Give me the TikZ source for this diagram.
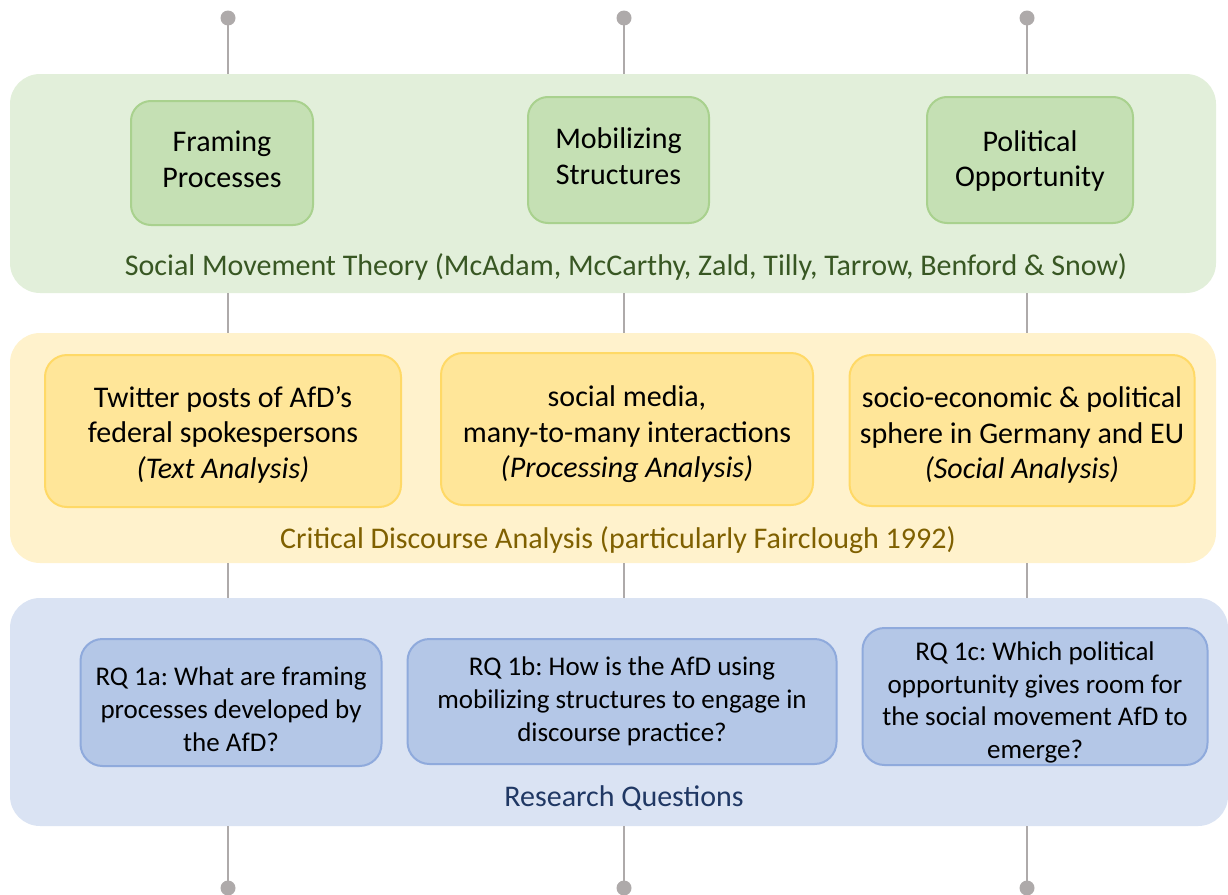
\documentclass[tikz,border=0pt]{standalone}
\usepackage{fontspec}
\setmainfont{Carlito}
\usetikzlibrary{positioning}
\definecolor{smtband}{HTML}{E2EFDA}
\definecolor{smtfill}{HTML}{C5E0B4}
\definecolor{smtline}{HTML}{A9D18E}
\definecolor{smttext}{HTML}{385723}
\definecolor{cdaband}{HTML}{FFF2CC}
\definecolor{cdafill}{HTML}{FFE699}
\definecolor{cdaline}{HTML}{FFD966}
\definecolor{cdatext}{HTML}{7F6000}
\definecolor{rqband}{HTML}{DAE3F3}
\definecolor{rqfill}{HTML}{B4C7E7}
\definecolor{rqline}{HTML}{8FAADC}
\definecolor{rqtext}{HTML}{203864}
\definecolor{pingray}{HTML}{AEAAAA}
\tikzset{
  band/.style={rounded corners=30pt, inner sep=0pt},
  smtbox/.style={draw=smtline, fill=smtfill, line width=2pt, rounded corners=20pt, inner sep=0pt},
  cdabox/.style={draw=cdaline, fill=cdafill, line width=2pt, rounded corners=22pt, inner sep=0pt},
  rqbox/.style={draw=rqline, fill=rqfill, line width=2pt, rounded corners=22pt, inner sep=0pt},
  boxtext/.style={align=center, inner sep=0pt},
  rqtxt/.style={boxtext, font=\fontsize{27}{32.8}\selectfont},
  pinline/.style={draw=pingray, line width=2.5pt},
  pindot/.style={circle, fill=pingray, inner sep=0pt, minimum size=15pt},
}

\begin{document}
\frenchspacing
\begin{tikzpicture}[x=1pt, y=-1pt, font=\fontsize{30}{35.5}\selectfont]
\useasboundingbox (0,0) rectangle (1228,894);
		% bands %
		\node[band, fill=smtband, minimum width=1206pt, minimum height=219pt] (smt) at (613,183.5) {};
		\node[band, fill=cdaband, minimum width=1206pt, minimum height=230pt] (cda) at (613,448) {};
		\node[band, fill=rqband, minimum width=1218pt, minimum height=228pt] (rq) at (619,712) {};

		% band labels %
		\node[text=smttext] (smtlabel) at (626,267) {Social Movement Theory (McAdam, McCarthy, Zald, Tilly, Tarrow, Benford \& Snow)};
		\node[text=cdatext] (cdalabel) at (618,540) {Critical Discourse Analysis (particularly Fairclough 1992)};
		\node[text=rqtext] (rqlabel) at (624,798) {Research Questions};

		% boxes %
		\node[smtbox, minimum width=182pt, minimum height=124pt] (framing) at (222,163) {};
		\node[smtbox, minimum width=181pt, minimum height=126pt] (mobil) at (618.5,160) {};
		\node[smtbox, minimum width=206pt, minimum height=126pt] (polopp) at (1030,160) {};
		\node[cdabox, minimum width=356pt, minimum height=152pt] (text) at (223,431) {};
		\node[cdabox, minimum width=372pt, minimum height=152pt] (proc) at (627,429) {};
		\node[cdabox, minimum width=345pt, minimum height=151pt] (social) at (1022,430.5) {};
		\node[rqbox, minimum width=301pt, minimum height=127pt] (rqa) at (231,702.5) {};
		\node[rqbox, minimum width=429pt, minimum height=125pt] (rqb) at (622,701.5) {};
		\node[rqbox, minimum width=345pt, minimum height=137pt] (rqc) at (1035,696.5) {};

		% box texts %
		\node[boxtext] (framingtxt) at (222,159.5) {Framing\\Processes};
		\node[boxtext] (mobiltxt) at (618.5,156) {Mobilizing\\Structures};
		\node[boxtext] (polopptxt) at (1030,161) {Political\\Opportunity};
		\node[boxtext] (texttxt) at (223,434.5) {Twitter posts of AfD’s\\federal spokespersons\\\textit{(Text Analysis)}};
		\node[boxtext] (proctxt) at (627,434.5) {social media,\\many-to-many interactions\\\textit{(Processing Analysis)}};
		\node[boxtext] (socialtxt) at (1022,435) {socio-economic \& political\\sphere in Germany and EU\\\textit{(Social Analysis)}};
		\node[rqtxt] (rqatxt) at (231,709.5) {RQ 1a: What are framing\\processes developed by\\the AfD?};
		\node[rqtxt] (rqbtxt) at (622,701) {RQ 1b: How is the AfD using\\mobilizing structures to engage in\\discourse practice?};
		\node[rqtxt] (rqctxt) at (1035,702.5) {RQ 1c: Which political\\opportunity gives room for\\the social movement AfD to\\emerge?};

		% pins %
		\foreach \x/\n in {228/1, 624/2, 1027/3} {
			\node[pindot] (top\n) at (\x,18) {};
			\node[pindot] (bot\n) at (\x,888) {};
		}

		% edges %
		\foreach \n in {1,2,3} {
			\draw[pinline] (top\n.center) -- (top\n |- smt.north);
			\draw[pinline] (top\n |- smt.south) -- (top\n |- cda.north);
			\draw[pinline] (top\n |- cda.south) -- (top\n |- rq.north);
			\draw[pinline] (bot\n |- rq.south) -- (bot\n.center);
		}
\end{tikzpicture}
\end{document}
